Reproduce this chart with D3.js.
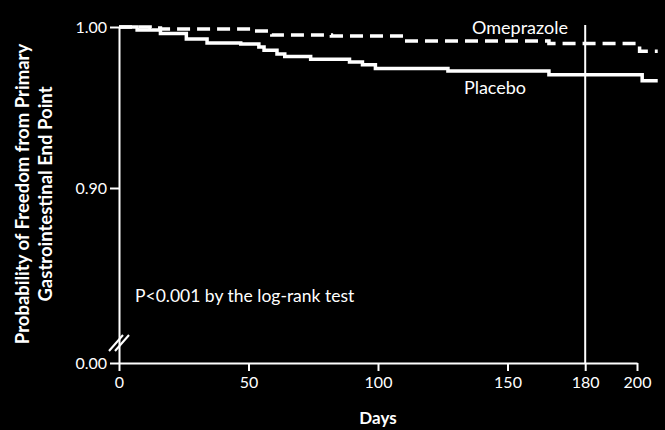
<!DOCTYPE html>
<html>
<head>
<meta charset="utf-8">
<script src="https://cdn.jsdelivr.net/npm/d3@7"></script>
<style>
  body { margin: 0; background: #000; }
  svg { display: block; }
  text { font-family: Lato, "Open Sans", sans-serif; fill: #fff; }
</style>
</head>
<body>
<svg id="chart" width="665" height="430"></svg>
<script>
// --- data (days, survival probability) ---
var omeprazoleDays = [0, 12, 16, 51, 59, 82, 110, 166, 201, 208];
var omeprazoleSurv = [1.000, 0.9994, 0.9988, 0.9975, 0.9950, 0.9944, 0.9913, 0.9898, 0.9850, 0.9850];

var placeboDays = [0, 7, 16, 26, 34, 47, 54, 56, 61, 64, 74, 89, 94, 99, 127, 166, 202, 208];
var placeboSurv = [1.000, 0.9981, 0.9960, 0.9926, 0.9900, 0.9895, 0.9876, 0.9855, 0.9833, 0.9817,
                   0.9799, 0.9783, 0.9765, 0.9743, 0.9726, 0.9703, 0.9666, 0.9666];

var xTicks = [0, 50, 100, 150, 180, 200];
var yTicks = [0, 0.90, 1.00];
var markerDay = 180;

// --- layout ---
var svg = d3.select("#chart");
var x = d3.scaleLinear().domain([0, 200]).range([119, 637]);
// broken axis: 0 -> bottom, 0.90..1.00 stretched
var y = d3.scaleLinear().domain([0, 0.90, 1.00]).range([363, 188, 27]);

// vertical reference line at 180 days
svg.append("line")
    .attr("x1", x(markerDay)).attr("x2", x(markerDay))
    .attr("y1", y(1.0) - 2).attr("y2", y(0))
    .attr("stroke", "#fff").attr("stroke-width", 2);

// x axis
var xAxis = svg.append("g")
    .attr("transform", "translate(0," + y(0) + ")")
    .call(d3.axisBottom(x).tickValues(xTicks).tickSize(8).tickSizeOuter(0).tickPadding(6));
xAxis.select(".domain").attr("stroke", "#fff").attr("stroke-width", 2);
xAxis.selectAll(".tick line").attr("stroke", "#fff").attr("stroke-width", 2);
xAxis.selectAll(".tick text").attr("fill", "#fff").style("font-size", "16px")
    .style("font-family", "Lato, sans-serif");

// y axis
var yAxis = svg.append("g")
    .attr("transform", "translate(" + x(0) + ",0)")
    .call(d3.axisLeft(y).tickValues(yTicks).tickFormat(d3.format(".2f")).tickSize(9).tickSizeOuter(0).tickPadding(3));
yAxis.select(".domain").attr("stroke", "#fff").attr("stroke-width", 2);
yAxis.selectAll(".tick line").attr("stroke", "#fff").attr("stroke-width", 2);
yAxis.selectAll(".tick text").attr("fill", "#fff").style("font-size", "16px")
    .style("font-family", "Lato, sans-serif");

// axis break marks
var bx = x(0), by = 343;
[-3, 3].forEach(function(off) {
    svg.append("line")
        .attr("x1", bx - 7 + off).attr("y1", by + 8)
        .attr("x2", bx + 7 + off).attr("y2", by - 8)
        .attr("stroke", "#fff").attr("stroke-width", 2);
});

// curves
var line = d3.line()
    .x(function(d) { return x(d[0]); })
    .y(function(d) { return y(d[1]); })
    .curve(d3.curveStepAfter);

svg.append("path")
    .datum(d3.zip(placeboDays, placeboSurv))
    .attr("d", line)
    .attr("fill", "none").attr("stroke", "#fff").attr("stroke-width", 3.5);

svg.append("path")
    .datum(d3.zip(omeprazoleDays, omeprazoleSurv))
    .attr("d", line)
    .attr("fill", "none").attr("stroke", "#fff").attr("stroke-width", 3.5)
    .attr("stroke-dasharray", "13,7");

// labels
svg.append("text").attr("x", 520).attr("y", 34).attr("text-anchor", "middle")
    .style("font-size", "18px").text("Omeprazole");
svg.append("text").attr("x", 495).attr("y", 94).attr("text-anchor", "middle")
    .style("font-size", "18px").text("Placebo");
svg.append("text").attr("x", 135).attr("y", 302)
    .style("font-size", "17.5px").text("P<0.001 by the log-rank test");

svg.append("text").attr("x", x(100)).attr("y", 424).attr("text-anchor", "middle")
    .style("font-size", "17px").style("font-weight", "bold").text("Days");

var yTitle = svg.append("text")
    .attr("transform", "translate(29,194) rotate(-90)")
    .attr("text-anchor", "middle")
    .style("font-size", "18.5px").style("font-weight", "bold");
yTitle.append("tspan").attr("x", 0).attr("dy", 0).text("Probability of Freedom from Primary");
yTitle.append("tspan").attr("x", 0).attr("dy", 23).text("Gastrointestinal End Point");
</script>
</body>
</html>
